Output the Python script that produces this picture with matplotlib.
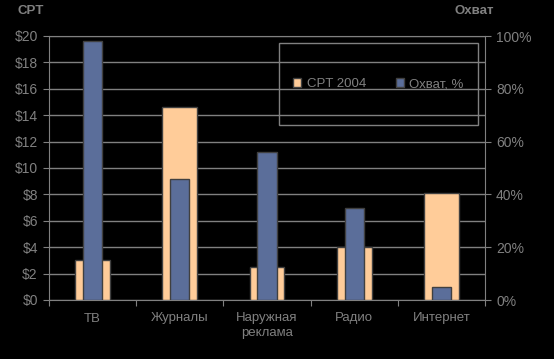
import matplotlib
matplotlib.use("Agg")
from matplotlib import pyplot as plt
from matplotlib.patches import Rectangle
import numpy as np

categories = ["ТВ", "Журналы", "Наружная\nреклама", "Радио", "Интернет"]
cpt_2004 = [3.0, 14.6, 2.5, 4.0, 8.1]
reach_pct = [98, 46, 56, 35, 5]
cpt_ticks = [0, 2, 4, 6, 8, 10, 12, 14, 16, 18, 20]
reach_ticks = [0, 20, 40, 60, 80, 100]

gray = "#808080"
edge = "#404040"
orange = "#FFCC99"
blue = "#5B6E9A"

plt.rcParams["font.family"] = ["Liberation Sans", "DejaVu Sans"]

fig = plt.figure(figsize=(5.54, 3.59), dpi=100, facecolor="black")
ax1 = fig.add_axes([49/554, 1-300/359, 436/554, 264/359])
ax1.set_facecolor("black")
x = np.arange(len(categories))

ax1.bar(x, cpt_2004, width=0.40, color=orange, edgecolor=edge, linewidth=1, zorder=3)
ax1.set_xlim(-0.5, len(categories)-0.5)
ax1.set_ylim(0, 20)
ax1.set_yticks(cpt_ticks)
ax1.set_yticklabels(["$%d" % v for v in cpt_ticks])
ax1.yaxis.grid(True, color=gray, linewidth=1, zorder=0)
ax1.set_axisbelow(True)
ax1.set_xticks(np.arange(len(categories)+1)-0.5)
ax1.set_xticklabels([])
ax1.set_xticks(x, minor=True)
ax1.set_xticklabels(categories, minor=True, color=gray, fontsize=9.5, linespacing=1.25)
ax1.tick_params(axis="x", which="minor", length=0, pad=9)
ax1.tick_params(axis="x", which="major", length=4, color=gray, direction="out")
ax1.tick_params(axis="y", colors=gray, labelsize=10, length=4, direction="out", pad=4)
for s in ["top", "left", "bottom"]:
    ax1.spines[s].set_color(gray)
ax1.spines["right"].set_visible(False)

ax2 = ax1.twinx()
ax2.patch.set_visible(False)
ax2.bar(x, reach_pct, width=0.22, color=blue, edgecolor=edge, linewidth=1, zorder=3)
ax2.set_ylim(0, 100)
ax2.set_yticks(reach_ticks)
ax2.set_yticklabels(["%d%%" % v for v in reach_ticks])
ax2.tick_params(axis="y", colors=gray, labelsize=10, length=4, direction="out", pad=4)
for s in ["top", "left", "bottom"]:
    ax2.spines[s].set_visible(False)
ax2.spines["right"].set_color(gray)

# legend box
ax2.add_patch(Rectangle((0.5275, 0.663), 0.4565, 0.31, transform=ax2.transAxes,
                        facecolor="none", edgecolor=gray, linewidth=1, zorder=5))
h1 = Rectangle((0, 0), 1, 1, facecolor=orange, edgecolor=edge)
h2 = Rectangle((0, 0), 1, 1, facecolor=blue, edgecolor=edge)
leg = ax2.legend([h1, h2], ["CPT 2004", "Охват, %"], ncol=2, frameon=False,
                 loc="center", bbox_to_anchor=(0.756, 0.818), fontsize=9.5,
                 handlelength=0.6, handleheight=0.6, handletextpad=0.4,
                 columnspacing=2.3, labelcolor=gray)

fig.text(17/554, 1-11.5/359, "CPT", color=gray, fontsize=9.5, fontweight="bold", va="center")
fig.text(474/554, 1-11.5/359, "Охват", color=gray, fontsize=9.5, fontweight="bold",
         va="center", ha="center")

fig.savefig("out.png", dpi=100, facecolor="black")
